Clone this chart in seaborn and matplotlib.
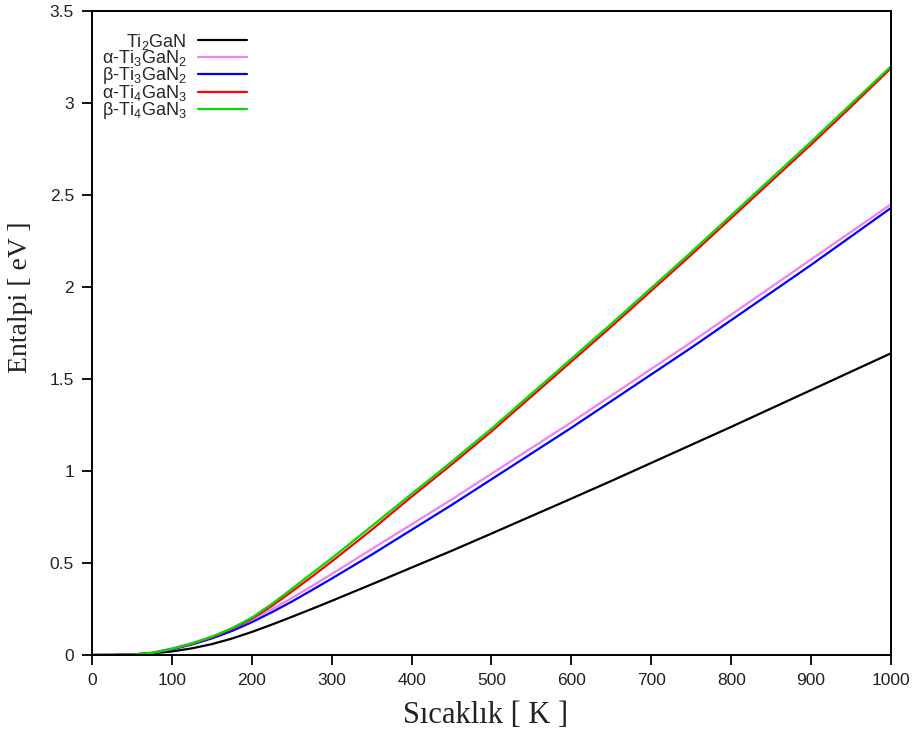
import numpy as np
import pandas as pd
import matplotlib
matplotlib.use("Agg")
import matplotlib.pyplot as plt
import seaborn as sns

# Temperature grid (K)
temperature = [0, 25, 50, 75, 100, 125, 150, 175, 200, 225, 250, 275, 300, 350, 400,
               450, 500, 550, 600, 650, 700, 750, 800, 850, 900, 950, 1000]

# Enthalpy (eV)
ti2gan = [0, 0.0004, 0.003, 0.009, 0.019, 0.036, 0.059, 0.089, 0.125, 0.165, 0.207,
          0.25, 0.294, 0.384, 0.475, 0.566, 0.66, 0.755, 0.85, 0.946, 1.044, 1.142,
          1.24, 1.34, 1.44, 1.54, 1.64]
a_ti3gan2 = [0, 0.0003, 0.003, 0.013, 0.036, 0.065, 0.1, 0.143, 0.192, 0.248, 0.309,
             0.374, 0.44, 0.575, 0.71, 0.845, 0.985, 1.125, 1.265, 1.41, 1.555, 1.70,
             1.85, 2.00, 2.15, 2.30, 2.45]
b_ti3gan2 = [0, 0.0002, 0.002, 0.01, 0.03, 0.057, 0.09, 0.13, 0.178, 0.232, 0.29,
             0.352, 0.415, 0.545, 0.68, 0.815, 0.955, 1.095, 1.235, 1.38, 1.525, 1.67,
             1.82, 1.97, 2.12, 2.275, 2.43]
a_ti4gan3 = [0, 0.0002, 0.002, 0.011, 0.032, 0.06, 0.096, 0.141, 0.197, 0.266, 0.344,
             0.425, 0.508, 0.68, 0.86, 1.035, 1.215, 1.405, 1.595, 1.785, 1.98, 2.175,
             2.375, 2.575, 2.775, 2.98, 3.19]
b_ti4gan3 = [0, 0.0002, 0.002, 0.011, 0.033, 0.062, 0.099, 0.145, 0.203, 0.277, 0.359,
             0.443, 0.526, 0.70, 0.875, 1.05, 1.23, 1.42, 1.61, 1.80, 1.995, 2.19,
             2.39, 2.59, 2.79, 2.995, 3.20]

labels = [r"Ti$_2$GaN", r"α-Ti$_3$GaN$_2$", r"β-Ti$_3$GaN$_2$",
          r"α-Ti$_4$GaN$_3$", r"β-Ti$_4$GaN$_3$"]
colors = ["#000000", "#ee82ee", "#0000ff", "#ff0000", "#00dd00"]

x_ticks = [0, 100, 200, 300, 400, 500, 600, 700, 800, 900, 1000]
y_ticks = [0, 0.5, 1, 1.5, 2, 2.5, 3, 3.5]
y_ticklabels = ["0", "0.5", "1", "1.5", "2", "2.5", "3", "3.5"]

series = [ti2gan, a_ti3gan2, b_ti3gan2, a_ti4gan3, b_ti4gan3]
df = pd.concat([pd.DataFrame({"T": temperature, "H": vals, "phase": lab})
                for lab, vals in zip(labels, series)], ignore_index=True)

sns.set_theme(style="white")
plt.rcParams["font.family"] = ["Liberation Sans", "DejaVu Sans"]
plt.rcParams["mathtext.fontset"] = "custom"
plt.rcParams["mathtext.rm"] = "Liberation Sans"
plt.rcParams["mathtext.it"] = "Liberation Sans:italic"

fig = plt.figure(figsize=(9.15, 7.38), dpi=100)
ax = fig.add_axes([0.1005, 0.1125, 0.8733, 0.8725])

sns.lineplot(data=df, x="T", y="H", hue="phase", palette=dict(zip(labels, colors)),
             hue_order=labels, linewidth=1.6, ax=ax, estimator=None, sort=False)

ax.set_xlim(0, 1000)
ax.set_ylim(0, 3.5)
ax.set_xticks(x_ticks)
ax.set_yticks(y_ticks)
ax.set_yticklabels(y_ticklabels)
ax.tick_params(axis="both", which="both", direction="out", length=7, width=1.3,
               color="black", labelsize=12.5, labelcolor="#222222", pad=6,
               left=True, bottom=True, top=False, right=False)
for sp in ax.spines.values():
    sp.set_color("black")
    sp.set_linewidth(1.4)

ax.set_xlabel("Sıcaklık [ K ]", family="Liberation Serif", fontsize=22, color="#222222")
ax.set_ylabel("Entalpi [ eV ]", family="Liberation Serif", fontsize=20, color="#222222")
ax.xaxis.set_label_coords(0.492, -0.072)
ax.yaxis.set_label_coords(-0.074, 0.556)

leg = ax.legend(loc="upper left", bbox_to_anchor=(-0.001, 0.985), frameon=False,
                markerfirst=False, fontsize=13, handlelength=2.75, handletextpad=0.6,
                labelspacing=-0.17, borderaxespad=0.2)
for line in leg.get_lines():
    line.set_linewidth(1.6)

fig.savefig("out.png", dpi=100)
